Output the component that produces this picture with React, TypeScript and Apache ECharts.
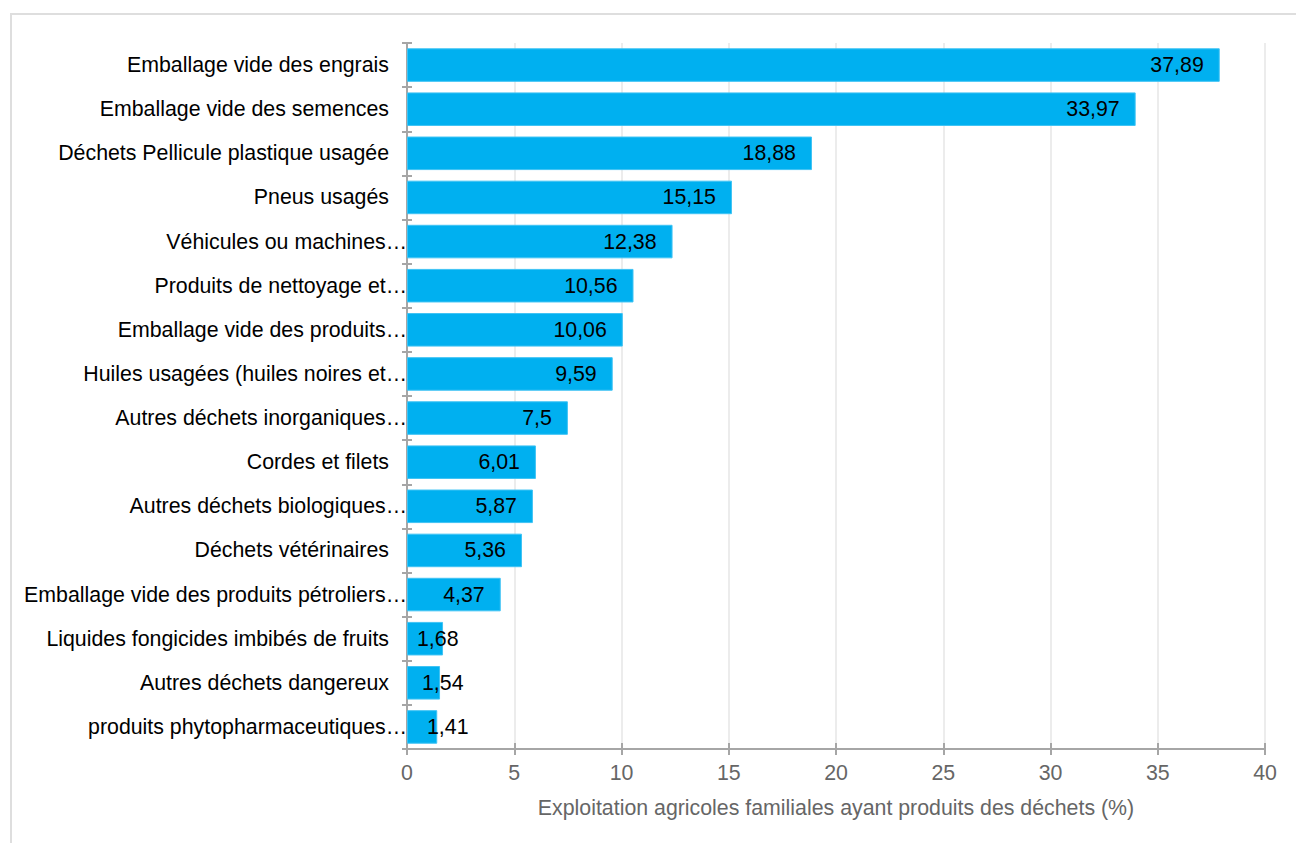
import React, { useEffect, useRef } from "react";
import * as echarts from "echarts";

const categories = [
  "Emballage vide des engrais",
  "Emballage vide des semences",
  "Déchets Pellicule plastique usagée",
  "Pneus usagés",
  "Véhicules ou machines…",
  "Produits de nettoyage et…",
  "Emballage vide des produits…",
  "Huiles usagées (huiles noires et…",
  "Autres déchets inorganiques…",
  "Cordes et filets",
  "Autres déchets biologiques…",
  "Déchets vétérinaires",
  "Emballage vide des produits pétroliers…",
  "Liquides fongicides imbibés de fruits",
  "Autres déchets dangereux",
  "produits phytopharmaceutiques…",
];

const values = [37.89, 33.97, 18.88, 15.15, 12.38, 10.56, 10.06, 9.59, 7.5, 6.01, 5.87, 5.36, 4.37, 1.68, 1.54, 1.41];

const xTicks = { min: 0, max: 40, interval: 5 };
const axisTitle = "Exploitation agricoles familiales ayant produits des déchets (%)";

const FONT = "Liberation Sans, Arial, sans-serif";
const FS = 21.33;
const BAR = "#00b0f0";
const AXIS = "#a6a6a6";

export default function App() {
  const ref = useRef<HTMLDivElement>(null);
  useEffect(() => {
    if (!ref.current) return;
    const chart = echarts.init(ref.current, undefined, { renderer: "svg" });
    const data = values.map((v) => {
      if (v < 2) {
        return {
          value: v,
          label: { position: "insideLeft", distance: 10 + Math.round((1.68 - v) * 38) },
        };
      }
      return { value: v };
    });
    chart.setOption({
      animation: false,
      textStyle: { fontFamily: FONT },
      grid: { left: 407, right: 31, top: 43, bottom: 94, containLabel: false },
      xAxis: [
        {
          type: "value",
          min: xTicks.min,
          max: xTicks.max,
          interval: xTicks.interval,
          position: "bottom",
          name: axisTitle,
          nameLocation: "middle",
          nameGap: 48,
          nameTextStyle: { color: "#666", fontSize: FS, fontFamily: FONT },
          axisLine: { show: true, lineStyle: { color: AXIS, width: 2 } },
          axisTick: { show: true, length: 6, lineStyle: { color: AXIS, width: 2 } },
          axisLabel: { color: "#666", fontSize: FS, margin: 13, fontFamily: FONT },
          splitLine: { show: true, lineStyle: { color: "#ececec", width: 2 } },
        },
        {
          type: "value",
          min: xTicks.min,
          max: xTicks.max,
          interval: xTicks.interval,
          position: "bottom",
          axisLine: { show: false },
          axisTick: { show: true, inside: true, length: 6, lineStyle: { color: AXIS, width: 2 } },
          axisLabel: { show: false },
          splitLine: { show: false },
        },
      ],
      yAxis: [
        {
          type: "category",
          data: categories,
          inverse: true,
          axisLine: { show: true, lineStyle: { color: AXIS, width: 2 } },
          axisTick: { show: true, length: 5, lineStyle: { color: AXIS, width: 2 } },
          axisLabel: {
            margin: 0,
            color: "#000",
            fontSize: FS,
            fontFamily: FONT,
            formatter: (s: string) => (s.endsWith("…") ? `{t|${s}}` : `{n|${s}}`),
            rich: {
              n: { color: "#000", fontSize: FS, fontFamily: FONT, padding: [0, 18, 0, 0] },
              t: { color: "#000", fontSize: FS, fontFamily: FONT, padding: [0, 0, 0, 0] },
            },
          },
          splitLine: { show: false },
        },
        {
          type: "category",
          data: categories,
          inverse: true,
          position: "left",
          axisLine: { show: false },
          axisTick: { show: true, inside: true, length: 5, lineStyle: { color: AXIS, width: 2 } },
          axisLabel: { show: false },
          splitLine: { show: false },
        },
      ],
      series: [
        {
          type: "bar",
          xAxisIndex: 0,
          yAxisIndex: 0,
          data,
          barCategoryGap: "24%",
          itemStyle: { color: BAR, borderColor: "#3fc3f4", borderWidth: 1 },
          label: {
            show: true,
            position: "insideRight",
            distance: 16,
            color: "#000",
            fontSize: FS,
            fontFamily: FONT,
            formatter: (p: any) => String(p.value).replace(".", ","),
          },
        },
      ],
    });
    return () => chart.dispose();
  }, []);
  return (
    <div style={{ position: "absolute", left: 0, top: 0, width: 1296, height: 843, overflow: "hidden", background: "#fff" }}>
      <div
        style={{
          position: "absolute",
          left: 10,
          top: 13,
          width: 1400,
          height: 1000,
          border: "2px solid #dedede",
          boxSizing: "border-box",
        }}
      />
      <div ref={ref} style={{ position: "absolute", left: 0, top: 0, width: 1296, height: 843 }} />
    </div>
  );
}
